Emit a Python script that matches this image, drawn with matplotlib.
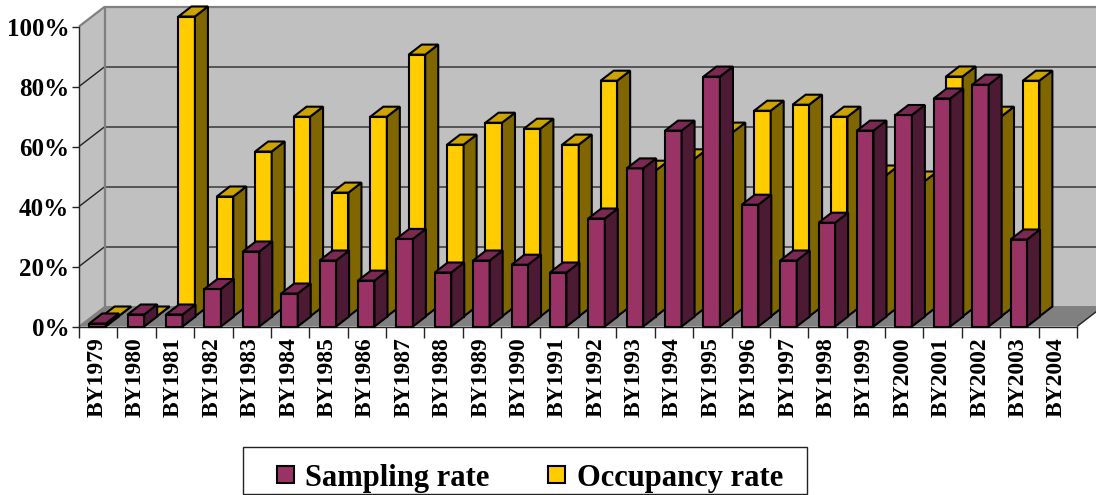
import matplotlib
matplotlib.use("Agg")
import matplotlib.pyplot as plt
from matplotlib.patches import Polygon, Rectangle
from matplotlib.lines import Line2D

categories = ["BY%d" % y for y in range(1979, 2005)]
sampling = [1, 4, 4, 12.5, 25, 11, 22, 15.3, 29.2, 18, 22, 20.6, 18, 36, 52.7, 65.3, 83.3, 40.6, 22, 34.6, 65.3, 70.5, 76, 80.6, 29, 0]
occupancy = [0, 0, 100, 40, 55, 66.6, 41.3, 66.6, 87.3, 57.3, 64.6, 62.6, 57.3, 78.6, 48.6, 52.4, 61.3, 68.6, 70.6, 66.6, 47, 45, 80, 66.6, 78.6, 0]
yticks = [0, 20, 40, 60, 80, 100]
ylabels = ["0%", "20%", "40%", "60%", "80%", "100%"]

W, H = 1096, 495
L, R, T, B = 79, 1077, 26.5, 326.5
fig = plt.figure(figsize=(W / 100, H / 100), dpi=100, facecolor="white")
ax = fig.add_axes([L / W, 1 - B / H, (R - L) / W, (B - T) / H])
ax.set_xlim(0, len(categories))
ax.set_ylim(0, 100)
ax.patch.set_visible(False)
SERIF = "Liberation Serif"

step = (R - L) / len(categories)
upy = (B - T) / 100
DX, DY = 26 / step, 20 / upy      # full chart depth in data units
BW = 16.5 / step                  # bar width
GAP = 10.3 / step                 # left gap
BDX, BDY = 13 / step, 10 / upy    # bar depth


def poly(pts, fc, ec="none", lw=0, z=1):
    ax.add_patch(Polygon(pts, closed=True, facecolor=fc, edgecolor=ec, linewidth=lw,
                         joinstyle="miter", clip_on=False, zorder=z))


def line(xs, ys, c, lw, z=1.5):
    ax.add_line(Line2D(xs, ys, color=c, lw=lw, clip_on=False, zorder=z, solid_capstyle="butt"))


n = len(categories)
# walls and floor
poly([(0, 0), (DX, DY), (n + DX, DY), (n + DX, 100 + DY), (DX, 100 + DY), (0, 100)], "#C0C0C0")
poly([(0, 0), (DX, DY), (n + DX, DY), (n, 0)], "#808080")
for t in yticks[1:-1]:
    line([0, DX], [t, t + DY], "#222222", 1.0)
    line([DX, n + DX], [t + DY, t + DY], "#555555", 1.4)
line([0, DX], [100, 100 + DY], "#808080", 1.6)
line([DX, n + DX], [100 + DY, 100 + DY], "#808080", 1.6)
line([DX, DX], [DY, 100 + DY], "#808080", 1.6)
line([DX, n + DX], [DY, DY], "#808080", 1.4)
line([0, DX], [0, DY], "#808080", 1.2)
line([n, n + DX], [0, DY], "#222222", 1.0)


def bar(i, v, ox, oy, front, side, top, z):
    x0 = i + ox
    x1 = x0 + BW
    y0 = oy
    y1 = oy + v
    lw = 1.5
    poly([(x0, y0), (x1, y0), (x1, y1), (x0, y1)], front, "black", lw, z)
    poly([(x1, y0), (x1 + BDX, y0 + BDY), (x1 + BDX, y1 + BDY), (x1, y1)], side, "black", lw, z)
    poly([(x0, y1), (x1, y1), (x1 + BDX, y1 + BDY), (x0 + BDX, y1 + BDY)], top, "black", lw, z)


z = 3
for i in range(n):
    if categories[i] == "BY2004":
        continue
    bar(i, occupancy[i], GAP + BDX * 0.95, BDY, "#FFCC00", "#806600", "#CCA300", z)
    bar(i, sampling[i], GAP, 0, "#993366", "#4D1A33", "#7A2952", z + 1)
    z += 2

for s in ("top", "right"):
    ax.spines[s].set_visible(False)
for s in ("left", "bottom"):
    ax.spines[s].set_color("#222222")
    ax.spines[s].set_linewidth(1.0)
    ax.spines[s].set_zorder(2)
ax.set_yticks(yticks)
ax.set_yticklabels(ylabels, family=SERIF, weight="bold", fontsize=18)
ax.set_xticks(range(n + 1))
ax.set_xticklabels([""] * (n + 1))
ax.tick_params(axis="y", length=5, width=1, color="#222222", pad=2)
ax.tick_params(axis="x", length=8, width=1, color="#222222")
for i, c in enumerate(categories):
    ax.annotate(c, xy=(i + 0.5, 0), xycoords="data", xytext=(-1, -8), textcoords="offset points",
                rotation=90, ha="center", va="top", family=SERIF, weight="bold", fontsize=17)

# legend
tf = fig.transFigure
fig.add_artist(Rectangle((243 / W, 1 - 494 / H), 564 / W, 47 / H, transform=tf, facecolor="white",
                         edgecolor="#222222", linewidth=1))
for x, col, lab, tx in ((277, "#993366", "Sampling rate", 305), (548, "#FFCC00", "Occupancy rate", 577)):
    fig.add_artist(Rectangle((x / W, 1 - 483 / H), 17 / W, 17 / H, transform=tf, facecolor=col,
                             edgecolor="black", linewidth=1.5))
    fig.text(tx / W, 1 - 475 / H, lab, family=SERIF, weight="bold", fontsize=22, va="center_baseline", ha="left")

fig.savefig("out.png", dpi=100)
